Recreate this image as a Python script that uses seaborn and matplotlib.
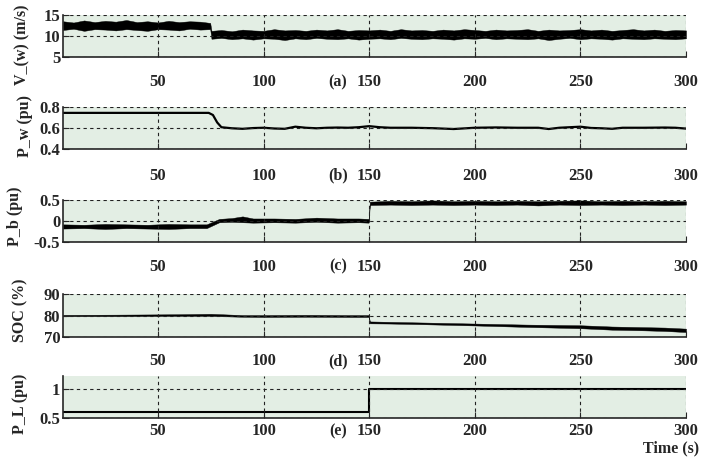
import numpy as np
import pandas as pd
import matplotlib.pyplot as plt
import seaborn as sns

# (a) wind speed: dense noisy signal, drawn as its envelope band
vw_t = [5, 10, 15, 20, 25, 30, 35, 40, 45, 50, 55, 60, 65, 70, 74.7,
        75.3, 80, 85, 90, 95, 100, 105, 110, 115, 120,
        125, 130, 135, 140, 145, 150, 155, 160, 165, 170,
        175, 180, 185, 190, 195, 200, 205, 210, 215, 220,
        225, 230, 235, 240, 245, 250, 255, 260, 265, 270,
        275, 280, 285, 290, 295, 300]
vw_lo = [11.4, 11.7, 11.2, 11.6, 11.5, 11.3, 11.6, 11.4, 11.2, 11.6, 11.5, 11.3, 11.7, 11.5, 11.6,
         9.3, 9.5, 9.2, 9.4, 9.1, 9.4, 9.3, 9.0, 9.4, 9.2,
         9.5, 9.3, 9.2, 9.4, 9.1, 9.3, 9.4, 9.2, 9.5, 9.3,
         9.2, 9.4, 9.3, 9.1, 9.4, 9.3, 9.5, 9.2, 9.4, 9.3,
         9.2, 9.4, 9.0, 9.3, 9.5, 9.2, 9.4, 9.3, 9.1, 9.4,
         9.3, 9.2, 9.4, 9.3, 9.2, 9.4]
vw_hi = [13.5, 13.2, 13.7, 13.3, 13.6, 13.4, 13.8, 13.3, 13.5, 13.2, 13.6, 13.3, 13.5, 13.4, 13.1,
         11.2, 11.4, 11.1, 11.5, 11.3, 11.2, 11.6, 11.3, 11.4, 11.2,
         11.5, 11.3, 11.6, 11.2, 11.4, 11.3, 11.5, 11.2, 11.6, 11.3,
         11.4, 11.2, 11.5, 11.3, 11.6, 11.4, 11.2, 11.5, 11.3, 11.4,
         11.6, 11.2, 11.5, 11.3, 11.4, 11.6, 11.3, 11.5, 11.2, 11.4,
         11.6, 11.3, 11.5, 11.2, 11.4, 11.3]

# (b) wind power
pw_t = [5, 74, 76, 78, 80, 85, 90, 95, 100, 105, 110, 115, 120, 125, 130, 135, 140, 145, 150, 155,
        160, 170, 180, 190, 200, 210, 220, 230, 235, 240, 250, 255, 260, 265, 270, 280, 290, 295, 300]
pw = [0.74, 0.74, 0.72, 0.65, 0.605, 0.595, 0.59, 0.597, 0.6, 0.593, 0.59, 0.61, 0.6, 0.595, 0.6, 0.602, 0.6, 0.605, 0.615, 0.605,
      0.6, 0.6, 0.596, 0.588, 0.6, 0.603, 0.6, 0.6, 0.588, 0.6, 0.61, 0.598, 0.595, 0.59, 0.6, 0.6, 0.602, 0.6, 0.592]

# (c) battery power band
pb_t = [5, 15, 25, 35, 45, 55, 65, 73,
        79, 85, 90, 95, 105, 115, 125, 135, 145, 149.7,
        150.3, 160, 170, 180, 190, 200, 210, 220, 230, 240, 250, 260, 270, 280, 290, 300]
pb_lo = [-0.18, -0.17, -0.19, -0.17, -0.18, -0.19, -0.17, -0.17,
         -0.03, -0.02, -0.03, -0.04, -0.03, -0.04, -0.02, -0.04, -0.03, -0.04,
         0.38, 0.39, 0.38, 0.39, 0.38, 0.39, 0.38, 0.39, 0.37, 0.39, 0.38, 0.39, 0.38, 0.39, 0.38, 0.39]
pb_hi = [-0.08, -0.09, -0.07, -0.08, -0.09, -0.07, -0.08, -0.08,
         0.05, 0.07, 0.11, 0.06, 0.06, 0.05, 0.08, 0.06, 0.06, 0.05,
         0.46, 0.48, 0.47, 0.49, 0.47, 0.48, 0.47, 0.48, 0.47, 0.48, 0.49, 0.47, 0.48, 0.47, 0.48, 0.47]

# (d) state of charge band
soc_t = [5, 30, 60, 75, 90, 100, 120, 140, 149.7, 150.3, 160, 175, 200, 225, 250, 265, 280, 290, 300]
soc_lo = [79.7, 79.7, 79.8, 79.8, 79.4, 79.3, 79.4, 79.3, 79.3, 76.3, 76.2, 75.9, 75.3, 74.6, 74.0, 73.3, 73.0, 72.7, 72.2]
soc_hi = [80.3, 80.4, 80.6, 80.8, 80.2, 80.2, 80.3, 80.2, 80.2, 77.2, 77.0, 76.7, 76.2, 75.7, 75.4, 74.8, 74.5, 74.3, 73.8]

# (e) load power
pl_t = [5, 150, 150, 300]
pl = [0.59, 0.59, 1.0, 1.0]

ylabels = ['V_(w) (m/s)', 'P_w (pu)', 'P_b (pu)', 'SOC (%)', 'P_L (pu)']
panel_tags = ['(a)', '(b)', '(c)', '(d)', '(e)']
yticks = [[5, 10, 15], [0.4, 0.6, 0.8], [-0.5, 0, 0.5], [70, 80, 90], [0.5, 1]]
yticklabels = [['5', '10', '15'], ['0.4', '0.6', '0.8'], ['-0.5', '0', '0.5'], ['70', '80', '90'], ['0.5', '1']]
ylims = [(5, 15), (0.4, 0.8), (-0.5, 0.5), (70, 90), (0.5, 1.22)]
xticks = [50, 100, 150, 200, 250, 300]

sns.set_style('ticks', {'axes.facecolor': '#e3eee4'})
plt.rcParams['font.family'] = ['Liberation Serif', 'DejaVu Serif']
plt.rcParams['font.weight'] = 'bold'
plt.rcParams['axes.labelweight'] = 'bold'

W, H = 723, 458
fig = plt.figure(figsize=(W / 100, H / 100), dpi=100)

# panel boxes in pixels: (top, bottom)
boxes = [(15, 56.7), (106.5, 149), (200, 242), (294.3, 336.7), (376, 417.7)]
left_px, right_px = 63, 686
label_x = [-0.053, -0.048, -0.064, -0.056, -0.056]
label_y = [0.28, 0.55, 0.62, 0.63, 0.33]
tick_pad = [12.5, 13.5, 12.5, 11.5, 4]
tag_y = [82, 175, 266, 361, 431]

axes = []
for top, bot in boxes:
    ax = fig.add_axes([left_px / W, 1 - bot / H, (right_px - left_px) / W, (bot - top) / H])
    axes.append(ax)

line_kw = dict(color='black', estimator=None, sort=False, legend=False)

axes[0].fill_between(vw_t, vw_lo, vw_hi, color='black', linewidth=0.3)
sns.lineplot(x=pw_t, y=pw, ax=axes[1], linewidth=1.6, **line_kw)
axes[2].fill_between(pb_t, pb_lo, pb_hi, color='black', linewidth=0.3)
axes[3].fill_between(soc_t, soc_lo, soc_hi, color='black', linewidth=0.3)
sns.lineplot(x=pl_t, y=pl, ax=axes[4], linewidth=1.5, **line_kw)

for i, ax in enumerate(axes):
    ax.set_xlim(5, 300)
    ax.set_ylim(*ylims[i])
    ax.set_xticks(xticks)
    ax.set_xticklabels([str(v) for v in xticks])
    ax.set_yticks(yticks[i])
    ax.set_yticklabels(yticklabels[i])
    ax.tick_params(axis='x', direction='in', length=4, pad=tick_pad[i], labelsize=12)
    ax.tick_params(axis='y', direction='in', length=4, pad=2, labelsize=12)
    for lab in ax.get_xticklabels() + ax.get_yticklabels():
        lab.set_fontweight('bold')
    ax.grid(True, color='#222222', linestyle=(0, (3, 3)), linewidth=0.8)
    ax.set_axisbelow(False)
    ax.spines['top'].set_visible(False)
    ax.spines['right'].set_visible(False)
    ax.spines['left'].set_linewidth(1.2)
    ax.spines['bottom'].set_linewidth(1.2)
    ax.set_ylabel(ylabels[i], fontsize=11.5, fontweight='bold')
    ax.yaxis.set_label_coords(label_x[i], label_y[i])
    fig.text(338 / W, 1 - tag_y[i] / H, panel_tags[i], ha='center', va='center',
             fontsize=11.5, fontweight='bold')

fig.text(699 / W, 1 - 448 / H, 'Time (s)', ha='right', va='center', fontsize=11.5, fontweight='bold')

fig.savefig('out.png', dpi=100)
